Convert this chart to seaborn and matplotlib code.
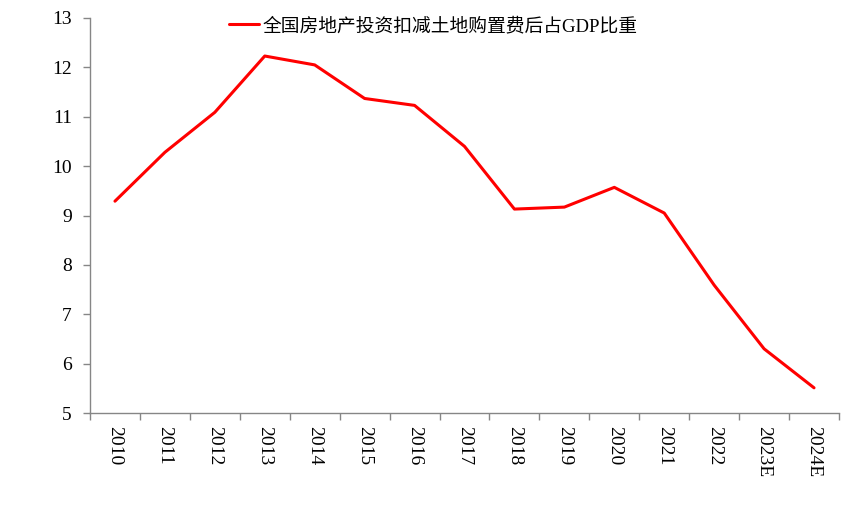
import seaborn as sns
import matplotlib.pyplot as plt
import numpy as np
import pandas as pd

sns.set_style("white")
plt.rcParams['font.family'] = ['Liberation Serif', 'Noto Sans CJK SC', 'DejaVu Sans']
plt.rcParams['text.color'] = 'black'
plt.rcParams['xtick.color'] = 'black'
plt.rcParams['ytick.color'] = 'black'

years = ["2010", "2011", "2012", "2013", "2014", "2015", "2016", "2017",
         "2018", "2019", "2020", "2021", "2022", "2023E", "2024E"]
ratio = [9.29, 10.28, 11.09, 12.23, 12.05, 11.37, 11.23, 10.40,
         9.13, 9.17, 9.57, 9.05, 7.59, 6.30, 5.51]
label = "全国房地产投资扣减土地购置费后占GDP比重"

df = pd.DataFrame({"pos": np.arange(len(years)), "ratio": ratio})

fig = plt.figure(figsize=(8.66, 5.17), dpi=100)
ax = fig.add_axes([90/866, 1 - 413/517, (839-90)/866, (413-18)/517])

sns.lineplot(data=df, x="pos", y="ratio", color="#ff0000", linewidth=2.2,
             label=label, ax=ax)

ax.set_xlim(-0.5, len(years) - 0.5)
ax.set_ylim(5, 13)
ax.set_yticks(range(5, 14))
ax.set_xticks(np.arange(len(years)))
ax.set_xticklabels(years, rotation=-90, fontsize=14)
ax.set_xticks(np.arange(len(years) + 1) - 0.5, minor=True)
ax.tick_params(axis="x", which="major", length=0, pad=9)
ax.tick_params(axis="x", which="minor", length=5, width=1, color="#868686", direction="out")
ax.tick_params(axis="y", length=5, width=1, color="#868686", direction="out", labelsize=14, pad=8)
ax.yaxis.set_ticks_position("left")
ax.xaxis.set_ticks_position("bottom")
ax.set_xlabel("")
ax.set_ylabel("")

for s in ["top", "right"]:
    ax.spines[s].set_visible(False)
for s in ["left", "bottom"]:
    ax.spines[s].set_color("#868686")
    ax.spines[s].set_linewidth(1)

leg = ax.legend(loc="upper left", bbox_to_anchor=(0.163, 1.045), frameon=False,
                fontsize=13.5, handlelength=1.6, handletextpad=0.2)
for t in leg.get_texts():
    t.set_color("black")

fig.savefig("out.png", dpi=100)
